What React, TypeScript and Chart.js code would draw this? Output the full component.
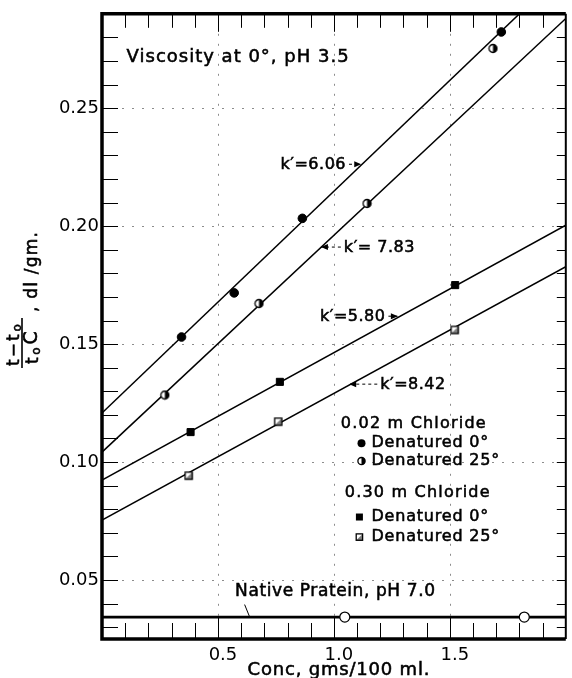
import React, { useEffect, useRef } from "react";
import { Chart, registerables } from "chart.js";
Chart.register(...registerables);

// ---------- data ----------
const conc002Den0 = [0.343, 0.57, 0.864, 1.722];
const visc002Den0 = [0.153, 0.1717, 0.2033, 0.2823];
const conc002Den25 = [0.271, 0.677, 1.143, 1.686];
const visc002Den25 = [0.1284, 0.1672, 0.2096, 0.2753];
const conc030Den0 = [0.382, 0.767, 1.523];
const visc030Den0 = [0.1127, 0.134, 0.175];
const conc030Den25 = [0.374, 0.76, 1.521];
const visc030Den25 = [0.0942, 0.1171, 0.156];
const concNative = [1.047, 1.821];
const viscNative = [0.0343, 0.0343];

// fitted straight lines (values at conc = 0 and conc = 2)
const fitConc = [0, 2];
const fit002Den0 = [0.1208, 0.3088];
const fit002Den25 = [0.1042, 0.288];
const fit030Den0 = [0.0924, 0.2004];
const fit030Den25 = [0.0754, 0.1828];
const fitNative = [0.0343, 0.0343];

// axes
const xTickValues = [0.5, 1.0, 1.5];
const yTickValues = [0.05, 0.1, 0.15, 0.2, 0.25];
const xMinorTicks = [0.1, 0.2, 0.3, 0.4, 0.5, 0.6, 0.7, 0.8, 0.9, 1.0, 1.1, 1.2, 1.3, 1.4, 1.5, 1.6, 1.7, 1.8, 1.9];
const yMinorTicks = [0.03, 0.04, 0.05, 0.06, 0.07, 0.08, 0.09, 0.1, 0.11, 0.12, 0.13, 0.14, 0.15, 0.16, 0.17, 0.18, 0.19, 0.2, 0.21, 0.22, 0.23, 0.24, 0.25, 0.26, 0.27, 0.28];

// annotations (data coordinates)
const titleText = "Viscosity at 0°, pH 3.5";
const titlePos = [0.106, 0.2716];
const slopeText = ["k′=6.06", "k′= 7.83", "k′=5.80", "k′=8.42"];
const slopeTextX = [0.77, 1.043, 0.94, 1.2];
const slopeTextY = [0.2258, 0.1907, 0.1614, 0.1326];
const slopeTipX = [1.118, 0.944, 1.276, 1.066];
const slopeArrowAfter = [true, false, true, false];
const legendHeaders = ["0.02 m Chloride", "0.30 m Chloride"];
const legendHeaderX = [1.03, 1.047];
const legendHeaderY = [0.1161, 0.0869];
const legendRows = ["Denatured 0°", "Denatured 25°", "Denatured 0°", "Denatured 25°"];
const legendRowY = [0.108, 0.1004, 0.0767, 0.0682];
const legendMarkerX = [1.119, 1.119, 1.11, 1.11];
const legendTextX = 1.162;
const nativeText = "Native Pratein, pH 7.0";
const nativeTextPos = [0.574, 0.0449];
const nativePointer = [0.615, 0.0396, 0.636, 0.0345];
const xTitle = "Conc, gms/100 ml.";

const FONT = '"DejaVu Sans"';

function drawHalfCircle(g: CanvasRenderingContext2D, x: number, y: number, r: number) {
  g.beginPath();
  g.arc(x, y, r, 0, Math.PI * 2);
  g.fillStyle = "#fff";
  g.fill();
  g.beginPath();
  g.arc(x, y, r, -Math.PI / 2, Math.PI / 2);
  g.closePath();
  g.fillStyle = "#000";
  g.fill();
  g.beginPath();
  g.arc(x, y, r, 0, Math.PI * 2);
  g.lineWidth = 1.3;
  g.strokeStyle = "#000";
  g.stroke();
}

function drawOpenSquare(g: CanvasRenderingContext2D, x: number, y: number, s: number) {
  g.fillStyle = "#fff";
  g.fillRect(x - s, y - s, 2 * s, 2 * s);
  g.beginPath();
  g.moveTo(x + s, y - s);
  g.lineTo(x + s, y + s);
  g.lineTo(x - s, y + s);
  g.closePath();
  g.fillStyle = "rgba(0,0,0,0.5)";
  g.fill();
  g.lineWidth = 1.3;
  g.strokeStyle = "#000";
  g.strokeRect(x - s, y - s, 2 * s, 2 * s);
}

function makeCanvas(size: number, draw: (g: CanvasRenderingContext2D, c: number) => void) {
  const c = document.createElement("canvas");
  c.width = size;
  c.height = size;
  const g = c.getContext("2d")!;
  draw(g, size / 2);
  return c;
}

function pts(xs: number[], ys: number[]) {
  return xs.map((x, i) => ({ x, y: ys[i] }));
}

function heavyText(ctx: CanvasRenderingContext2D, s: string, x: number, y: number) {
  ctx.fillText(s, x, y);
  ctx.lineWidth = 0.55;
  ctx.strokeStyle = "#000";
  ctx.strokeText(s, x, y);
}

const decor = {
  id: "decor",
  beforeDatasetsDraw(chart: any) {
    const { ctx, chartArea: a, scales } = chart;
    const x = scales.x, y = scales.y;
    ctx.save();
    ctx.strokeStyle = "rgba(0,0,0,0.45)";
    ctx.lineWidth = 1;
    ctx.setLineDash([2, 8]);
    for (const v of xTickValues) {
      const px = Math.round(x.getPixelForValue(v)) + 0.5;
      ctx.beginPath();
      ctx.moveTo(px, a.top);
      ctx.lineTo(px, a.bottom);
      ctx.stroke();
    }
    for (const v of yTickValues) {
      const py = Math.round(y.getPixelForValue(v)) + 0.5;
      ctx.beginPath();
      ctx.moveTo(a.left, py);
      ctx.lineTo(a.right, py);
      ctx.stroke();
    }
    ctx.setLineDash([]);
    // minor ticks
    ctx.strokeStyle = "#000";
    ctx.lineWidth = 1;
    for (const v of xMinorTicks) {
      const px = Math.round(x.getPixelForValue(v)) + 0.5;
      const major = xTickValues.some((t) => Math.abs(t - v) < 1e-6);
      ctx.beginPath();
      ctx.moveTo(px, a.top);
      ctx.lineTo(px, a.top + (major ? 18 : 14));
      ctx.moveTo(px, a.bottom);
      ctx.lineTo(px, a.bottom - (major ? 22 : 16));
      ctx.stroke();
    }
    for (const v of yMinorTicks) {
      const py = Math.round(y.getPixelForValue(v)) + 0.5;
      ctx.beginPath();
      ctx.moveTo(a.left, py);
      ctx.lineTo(a.left + 16, py);
      ctx.moveTo(a.right, py);
      ctx.lineTo(a.right - 9, py);
      ctx.stroke();
    }
    ctx.restore();
  },
  afterDatasetsDraw(chart: any) {
    const { ctx, chartArea: a, scales } = chart;
    const x = scales.x, y = scales.y;
    const X = (v: number) => x.getPixelForValue(v);
    const Y = (v: number) => y.getPixelForValue(v);
    ctx.save();
    // frame
    ctx.strokeStyle = "#000";
    ctx.lineWidth = 3.5;
    ctx.beginPath();
    ctx.moveTo(a.right, a.top);
    ctx.lineTo(a.left, a.top);
    ctx.lineTo(a.left, a.bottom);
    ctx.lineTo(a.right, a.bottom);
    ctx.stroke();
    ctx.lineWidth = 2;
    ctx.beginPath();
    ctx.moveTo(a.right, a.top);
    ctx.lineTo(a.right, a.bottom);
    ctx.stroke();

    ctx.fillStyle = "#000";
    ctx.textBaseline = "middle";
    ctx.textAlign = "left";
    const setFont = (size: number, spacing: number) => {
      ctx.font = `${size}px ${FONT}`;
      (ctx as any).letterSpacing = `${spacing}px`;
    };

    // title in plot
    setFont(18, 1);
    heavyText(ctx, titleText, X(titlePos[0]), Y(titlePos[1]));

    // slope labels with dashed arrows
    setFont(16, 0.5);
    for (let i = 0; i < slopeText.length; i++) {
      const tx = X(slopeTextX[i]);
      const ty = Y(slopeTextY[i]);
      heavyText(ctx, slopeText[i], tx, ty);
      const w = ctx.measureText(slopeText[i]).width;
      const tip = X(slopeTipX[i]);
      const tail = slopeArrowAfter[i] ? tx + w + 3 : tx - 3;
      const ay = ty - 1;
      ctx.lineWidth = 1;
      ctx.strokeStyle = "#000";
      ctx.setLineDash([3, 3]);
      ctx.beginPath();
      ctx.moveTo(tail, ay);
      ctx.lineTo(tip, ay);
      ctx.stroke();
      ctx.setLineDash([]);
      const d = Math.sign(tip - tail);
      ctx.beginPath();
      ctx.moveTo(tip, ay);
      ctx.lineTo(tip - d * 7, ay - 3);
      ctx.lineTo(tip - d * 7, ay + 3);
      ctx.closePath();
      ctx.fill();
    }

    // legend
    setFont(16, 1.2);
    for (let i = 0; i < legendHeaders.length; i++) {
      heavyText(ctx, legendHeaders[i], X(legendHeaderX[i]), Y(legendHeaderY[i]));
    }
    setFont(16, 0.8);
    for (let i = 0; i < legendRows.length; i++) {
      const my = Y(legendRowY[i]);
      const mx = X(legendMarkerX[i]);
      if (i === 0) {
        ctx.beginPath();
        ctx.arc(mx, my, 4, 0, Math.PI * 2);
        ctx.fill();
      } else if (i === 1) {
        drawHalfCircle(ctx, mx, my, 3.6);
      } else if (i === 2) {
        ctx.fillStyle = "#000";
        ctx.fillRect(mx - 3.5, my - 3.5, 7, 7);
      } else {
        drawOpenSquare(ctx, mx, my, 3.2);
      }
      ctx.fillStyle = "#000";
      heavyText(ctx, legendRows[i], X(legendTextX), my);
    }

    // native protein label
    setFont(17, 0.6);
    heavyText(ctx, nativeText, X(nativeTextPos[0]), Y(nativeTextPos[1]));
    ctx.lineWidth = 1;
    ctx.beginPath();
    ctx.moveTo(X(nativePointer[0]), Y(nativePointer[1]));
    ctx.lineTo(X(nativePointer[2]), Y(nativePointer[3]));
    ctx.stroke();

    // x title
    setFont(18, 0.8);
    ctx.textAlign = "center";
    heavyText(ctx, xTitle, (a.left + a.right) / 2 + 5, 670);

    // y title (rotated fraction)
    ctx.textAlign = "left";
    ctx.textBaseline = "alphabetic";
    ctx.translate(0, 368);
    ctx.rotate(-Math.PI / 2);
    setFont(17, 2);
    heavyText(ctx, "t−t", 2, 19);
    const w1 = ctx.measureText("t−t").width;
    setFont(12, 0);
    heavyText(ctx, "o", 2 + w1 + 1, 21);
    ctx.fillRect(0, 21.2, 50, 1.6);
    setFont(17, 1.5);
    heavyText(ctx, "t", 4, 38);
    const wt = ctx.measureText("t").width;
    setFont(12, 0);
    heavyText(ctx, "o", 4 + wt + 1, 40);
    const wo = ctx.measureText("o").width;
    setFont(19, 1);
    heavyText(ctx, "C", 4 + wt + wo + 4, 37);
    setFont(17, 1.2);
    heavyText(ctx, ", dl /gm.", 56, 37);
    (ctx as any).letterSpacing = "0px";
    ctx.restore();
  },
};

export default function App() {
  const ref = useRef<HTMLCanvasElement>(null);
  useEffect(() => {
    const halfCircle = makeCanvas(11, (g, c) => drawHalfCircle(g, c, c, 4));
    const openSquare = makeCanvas(11, (g, c) => drawOpenSquare(g, c, c, 3.6));
    const lineDs = (xs: number[], ys: number[], w: number) => ({
      data: pts(xs, ys),
      showLine: true,
      borderColor: "#000",
      borderWidth: w,
      pointRadius: 0,
      clip: 0,
    });
    const chart = new Chart(ref.current!, {
      type: "scatter",
      data: {
        datasets: [
          { data: pts(conc002Den0, visc002Den0), pointStyle: "circle", pointRadius: 4.3, backgroundColor: "#000", borderColor: "#000", borderWidth: 1 },
          { data: pts(conc002Den25, visc002Den25), pointStyle: halfCircle as any, pointRadius: 5 },
          { data: pts(conc030Den0, visc030Den0), pointStyle: "rect", pointRadius: 5, backgroundColor: "#000", borderColor: "#000", borderWidth: 1 },
          { data: pts(conc030Den25, visc030Den25), pointStyle: openSquare as any, pointRadius: 5 },
          { data: pts(concNative, viscNative), pointStyle: "circle", pointRadius: 5, backgroundColor: "#fff", borderColor: "#000", borderWidth: 1.2 },
          lineDs(fitConc, fit002Den0, 1.5),
          lineDs(fitConc, fit002Den25, 1.5),
          lineDs(fitConc, fit030Den0, 1.5),
          lineDs(fitConc, fit030Den25, 1.5),
          lineDs(fitConc, fitNative, 2.8),
        ] as any,
      },
      options: {
        animation: false,
        responsive: false,
        devicePixelRatio: 1,
        layout: { padding: { top: 13, right: 1, left: 0, bottom: 0 } },
        plugins: { legend: { display: false }, tooltip: { enabled: false } },
        scales: {
          x: {
            type: "linear",
            min: 0,
            max: 2,
            grid: { display: false, drawTicks: false },
            border: { display: false },
            afterBuildTicks: (s: any) => {
              s.ticks = xTickValues.map((v) => ({ value: v }));
            },
            afterFit: (s: any) => {
              s.height = 39;
            },
            ticks: {
              autoSkip: false,
              maxRotation: 0,
              padding: 6,
              labelOffset: 5,
              color: "#000",
              font: { family: "DejaVu Sans", size: 18 },
              callback: (v: any) => Number(v).toFixed(1),
            },
          },
          y: {
            type: "linear",
            min: 0.025,
            max: 0.29,
            grid: { display: false, drawTicks: false },
            border: { display: false },
            afterBuildTicks: (s: any) => {
              s.ticks = yTickValues.map((v) => ({ value: v }));
            },
            afterFit: (s: any) => {
              s.width = 102;
            },
            ticks: {
              autoSkip: false,
              padding: 3,
              color: "#000",
              font: { family: "DejaVu Sans", size: 18 },
              callback: (v: any) => Number(v).toFixed(2),
            },
          },
        },
      } as any,
      plugins: [decor],
    });
    return () => chart.destroy();
  }, []);
  return (
    <div style={{ position: "absolute", left: 0, top: 0, width: 572, height: 678, background: "#fff" }}>
      <canvas ref={ref} width={572} height={678} style={{ display: "block" }} />
    </div>
  );
}
